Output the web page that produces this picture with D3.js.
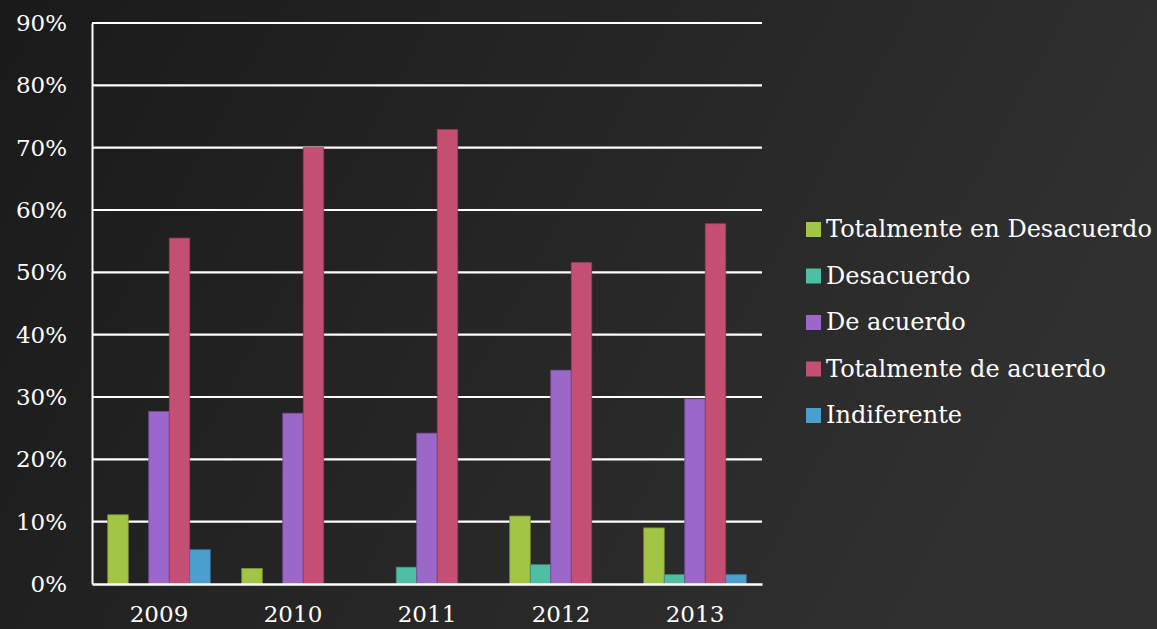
<!DOCTYPE html>
<html>
<head>
<meta charset="utf-8">
<script src="https://cdn.jsdelivr.net/npm/d3@7"></script>
<style>
  html, body { margin: 0; padding: 0; background: #222; }
  svg { display: block; }
  text { font-family: "DejaVu Serif", serif; fill: #fff; }
</style>
</head>
<body>
<svg width="1157" height="629"></svg>
<script>
var years = ['2009', '2010', '2011', '2012', '2013'];
var seriesNames = ['Totalmente en Desacuerdo', 'Desacuerdo', 'De acuerdo', 'Totalmente de acuerdo', 'Indiferente'];
var seriesColors = ['#a2c546', '#4fbfa3', '#9b67c9', '#c44f72', '#4a9fce'];
// one array per series, in % (per year)
var totDesacuerdo = [11.1, 2.5, 0, 10.9, 9.0];
var desacuerdo = [0, 0, 2.7, 3.1, 1.5];
var deAcuerdo = [27.7, 27.4, 24.2, 34.3, 29.7];
var totDeAcuerdo = [55.5, 70.0, 72.9, 51.6, 57.8];
var indiferente = [5.5, 0, 0, 0, 1.5];
var yTicks = [0, 10, 20, 30, 40, 50, 60, 70, 80, 90];

var seriesValues = [totDesacuerdo, desacuerdo, deAcuerdo, totDeAcuerdo, indiferente];

var svg = d3.select('svg');
var width = 1157, height = 629;
var margin = {left: 92, right: 395, top: 23, bottom: 45};

// background
var defs = svg.append('defs');
var grad = defs.append('linearGradient').attr('id', 'bg')
  .attr('x1', '0%').attr('y1', '0%').attr('x2', '100%').attr('y2', '30%');
grad.append('stop').attr('offset', '0%').attr('stop-color', '#1a1a1a');
grad.append('stop').attr('offset', '100%').attr('stop-color', '#303030');
svg.append('rect').attr('width', width).attr('height', height).attr('fill', 'url(#bg)');

var x0 = d3.scaleBand().domain(years)
  .range([margin.left, width - margin.right]).paddingInner(0.235).paddingOuter(0.1175);
var x1 = d3.scaleBand().domain(d3.range(seriesNames.length))
  .range([0, x0.bandwidth()]);
var y = d3.scaleLinear().domain([0, 90]).range([height - margin.bottom, margin.top]);

// gridlines
svg.append('g').selectAll('line').data(yTicks.slice(1)).join('line')
  .attr('x1', margin.left).attr('x2', width - margin.right)
  .attr('y1', d => y(d)).attr('y2', d => y(d))
  .attr('stroke', '#fff').attr('stroke-width', 2.2);

// bars
var groups = svg.append('g').selectAll('g').data(years).join('g')
  .attr('transform', d => 'translate(' + x0(d) + ',0)');
groups.selectAll('rect').data((d, i) => seriesValues.map((s, k) => ({k: k, v: s[i]})))
  .join('rect')
  .filter(d => d.v > 0)
  .attr('x', d => x1(d.k))
  .attr('width', x1.bandwidth())
  .attr('y', d => y(d.v))
  .attr('height', d => y(0) - y(d.v))
  .attr('fill', d => seriesColors[d.k])
  .attr('stroke', d => d3.color(seriesColors[d.k]).darker(0.8))
  .attr('stroke-width', 0.8);

// axes
var yAxis = svg.append('g').attr('transform', 'translate(' + margin.left + ',0)')
  .call(d3.axisLeft(y).tickValues(yTicks).tickFormat(d => d + '%').tickSize(0).tickPadding(25));
yAxis.select('.domain').attr('stroke', '#fff').attr('stroke-width', 2);
yAxis.selectAll('text').attr('font-size', 23).style('font-family', '"DejaVu Serif", serif').attr('fill', '#fff');

var xAxis = svg.append('g').attr('transform', 'translate(0,' + y(0) + ')')
  .call(d3.axisBottom(x0).tickSize(0).tickPadding(22));
xAxis.select('.domain').attr('stroke', '#fff').attr('stroke-width', 2.5);
xAxis.selectAll('text').attr('font-size', 23).style('font-family', '"DejaVu Serif", serif').attr('fill', '#fff');

// legend
var legend = svg.append('g').attr('transform', 'translate(806,229)');
var items = legend.selectAll('g').data(seriesNames).join('g')
  .attr('transform', (d, i) => 'translate(0,' + (i * 46.5) + ')');
items.append('rect').attr('x', 0).attr('y', -7).attr('width', 15).attr('height', 15)
  .attr('fill', (d, i) => seriesColors[i]);
items.append('text').attr('x', 20).attr('y', 0).attr('dy', '0.35em')
  .attr('font-size', 24).text(d => d);
</script>
</body>
</html>
